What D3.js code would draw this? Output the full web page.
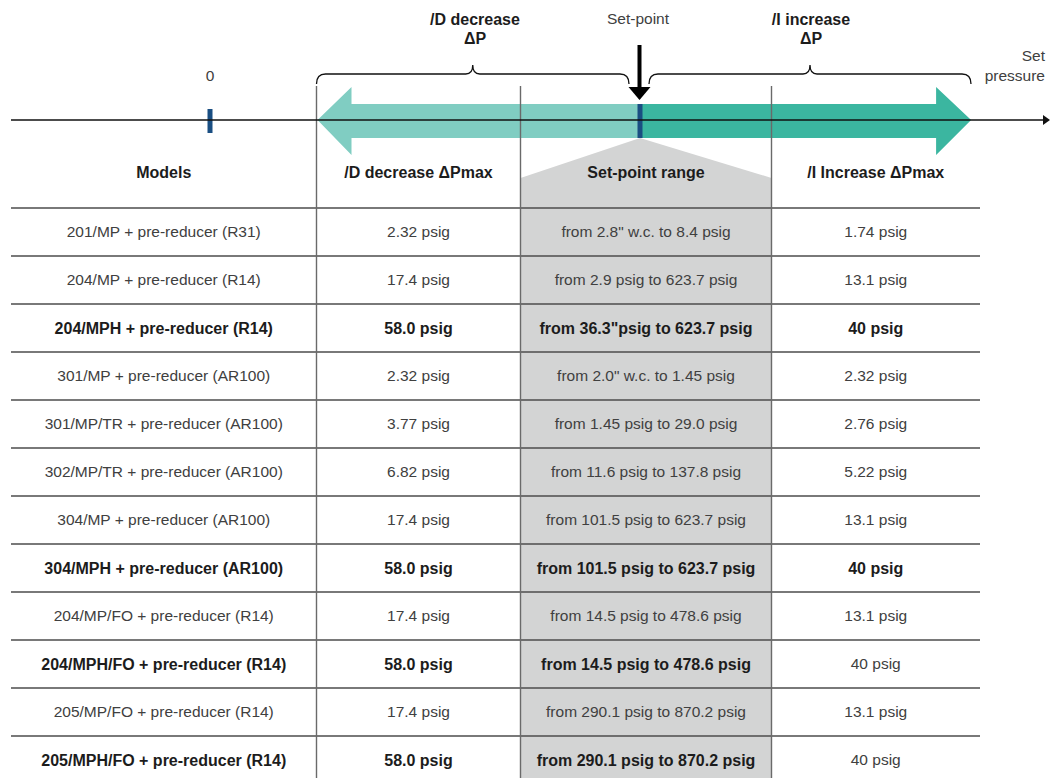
<!DOCTYPE html>
<html>
<head>
<meta charset="utf-8">
<script src="https://cdn.jsdelivr.net/npm/d3@7"></script>
<style>
  body { margin: 0; background: #fff; }
  text { font-family: "Liberation Sans", Arial, sans-serif; font-size: 15.5px; }
  text.b { font-size: 16px; font-weight: bold; }
</style>
</head>
<body>
<svg id="chart" width="1050" height="778"></svg>
<script>
// table content
var models = ["201/MP + pre-reducer (R31)", "204/MP + pre-reducer (R14)", "204/MPH + pre-reducer (R14)",
  "301/MP + pre-reducer (AR100)", "301/MP/TR + pre-reducer (AR100)", "302/MP/TR + pre-reducer (AR100)",
  "304/MP + pre-reducer (AR100)", "304/MPH + pre-reducer (AR100)", "204/MP/FO + pre-reducer (R14)",
  "204/MPH/FO + pre-reducer (R14)", "205/MP/FO + pre-reducer (R14)", "205/MPH/FO + pre-reducer (R14)"];
var decreaseMax = ["2.32 psig", "17.4 psig", "58.0 psig", "2.32 psig", "3.77 psig", "6.82 psig",
  "17.4 psig", "58.0 psig", "17.4 psig", "58.0 psig", "17.4 psig", "58.0 psig"];
var setRange = ["from 2.8\" w.c. to 8.4 psig", "from 2.9 psig to 623.7 psig", "from 36.3\"psig to 623.7 psig",
  "from 2.0\" w.c. to 1.45 psig", "from 1.45 psig to 29.0 psig", "from 11.6 psig to 137.8 psig",
  "from 101.5 psig to 623.7 psig", "from 101.5 psig to 623.7 psig", "from 14.5 psig to 478.6 psig",
  "from 14.5 psig to 478.6 psig", "from 290.1 psig to 870.2 psig", "from 290.1 psig to 870.2 psig"];
var increaseMax = ["1.74 psig", "13.1 psig", "40 psig", "2.32 psig", "2.76 psig", "5.22 psig",
  "13.1 psig", "40 psig", "13.1 psig", "40 psig", "13.1 psig", "40 psig"];
var boldRows = [2, 7, 9, 11];        // model, decrease and range in bold
var boldIncrease = [2, 7];           // increase column in bold
var headers = ["Models", "/D decrease \u0394Pmax", "Set-point range", "/I Increase \u0394Pmax"];

// schematic pressure axis (arbitrary units, set-point = 100)
var zeroP = 0, setPoint = 100, decreaseLimit = 25, increaseLimit = 177;

var svg = d3.select("#chart");
var ink = "#1c1c1c", soft = "#404040", rule = "#4d4d4d";

var colEdges = [11, 316.5, 520.5, 771.5, 980];
var rowH = 48, tableTop = 208;
var y = d3.scaleBand().domain(d3.range(models.length))
  .range([tableTop, tableTop + rowH * models.length]);
var p = d3.scaleLinear().domain([0, 100]).range([210, 640]);
var axisY = 120;

// gray set-point column with funnel
svg.append("path")
  .attr("d", "M" + colEdges[2] + ",778V178L" + p(setPoint) + ",138L" + colEdges[3] + ",178V778Z")
  .attr("fill", "#d3d4d4");

// decrease arrow (points left) and increase arrow (points right)
var shaftT = axisY - 16, shaftB = axisY + 18, headT = axisY - 33, headB = axisY + 35;
var dTip = p(decreaseLimit), iTip = p(increaseLimit);
svg.append("path")
  .attr("d", "M" + dTip + "," + axisY + "L" + (dTip + 34) + "," + headT + "V" + shaftT +
    "H" + p(setPoint) + "V" + shaftB + "H" + (dTip + 34) + "V" + headB + "Z")
  .attr("fill", "#80cdc2");
svg.append("path")
  .attr("d", "M" + iTip + "," + axisY + "L" + (iTip - 35) + "," + headT + "V" + shaftT +
    "H" + p(setPoint) + "V" + shaftB + "H" + (iTip - 35) + "V" + headB + "Z")
  .attr("fill", "#3bb6a0");

// markers for 0 and set-point
svg.append("rect").attr("x", p(zeroP) - 2.5).attr("y", 109).attr("width", 5).attr("height", 24).attr("fill", "#1a4e82");
svg.append("rect").attr("x", p(setPoint) - 2.5).attr("y", shaftT).attr("width", 5).attr("height", shaftB - shaftT).attr("fill", "#1a4e82");

// table rules
svg.selectAll("line.row")
  .data(d3.range(models.length + 1))
  .enter().append("line")
  .attr("x1", colEdges[0]).attr("x2", colEdges[4])
  .attr("y1", function(d) { return tableTop + d * rowH; })
  .attr("y2", function(d) { return tableTop + d * rowH; })
  .attr("stroke", rule).attr("stroke-width", 1.4);
svg.selectAll("line.col")
  .data(colEdges.slice(1, 4))
  .enter().append("line")
  .attr("x1", function(d) { return d; }).attr("x2", function(d) { return d; })
  .attr("y1", 86).attr("y2", 778)
  .attr("stroke", "#6a6a6a").attr("stroke-width", 1.4);

// pressure axis line
svg.append("line").attr("x1", 11).attr("x2", 1045).attr("y1", axisY).attr("y2", axisY)
  .attr("stroke", "#111").attr("stroke-width", 1.4);
svg.append("path").attr("d", "M1043," + (axisY - 5) + "L1050," + axisY + "L1043," + (axisY + 5) + "Z").attr("fill", "#111");

// set-point arrow
var sp = p(setPoint) - 0.5;
svg.append("line").attr("x1", sp).attr("x2", sp).attr("y1", 45).attr("y2", 89)
  .attr("stroke", "#000").attr("stroke-width", 4);
svg.append("path").attr("d", "M" + (sp - 11) + ",87L" + (sp + 11) + ",87L" + sp + ",100Z").attr("fill", "#000");

// curly braces
function brace(x0, x1, yb, yt) {
  var m = (x0 + x1) / 2, r = 9;
  return "M" + x0 + "," + (yb + 10) + "Q" + x0 + "," + yb + " " + (x0 + r) + "," + yb +
    "H" + (m - 7) + "Q" + m + "," + yb + " " + m + "," + yt +
    "Q" + m + "," + yb + " " + (m + 7) + "," + yb +
    "H" + (x1 - r) + "Q" + x1 + "," + yb + " " + x1 + "," + (yb + 10);
}
svg.append("path").attr("d", brace(colEdges[1], 629, 74, 65))
  .attr("fill", "none").attr("stroke", "#111").attr("stroke-width", 1.3);
svg.append("path").attr("d", brace(649, 971, 74, 65))
  .attr("fill", "none").attr("stroke", "#111").attr("stroke-width", 1.3);

// top labels
var topLabels = [
  { t: "/D decrease", x: 475, y: 19, b: true }, { t: "\u0394P", x: 475, y: 38, b: true },
  { t: "Set-point", x: p(setPoint) - 2, y: 19, b: false },
  { t: "/I increase", x: 811, y: 19, b: true }, { t: "\u0394P", x: 811, y: 38, b: true },
  { t: "0", x: p(zeroP), y: 76, b: false }
];
svg.selectAll("text.top")
  .data(topLabels)
  .enter().append("text")
  .attr("class", function(d) { return d.b ? "b" : null; })
  .attr("x", function(d) { return d.x; }).attr("y", function(d) { return d.y; })
  .attr("dy", "0.35em").attr("text-anchor", "middle")
  .attr("fill", function(d) { return d.b ? ink : soft; })
  .text(function(d) { return d.t; });
svg.selectAll("text.sp")
  .data(["Set", "pressure"])
  .enter().append("text")
  .attr("x", 1045).attr("y", function(d, i) { return 56 + i * 20; })
  .attr("dy", "0.35em").attr("text-anchor", "end").attr("fill", soft)
  .text(function(d) { return d; });

// header
var colMid = function(i) { return (colEdges[i] + colEdges[i + 1]) / 2; };
svg.selectAll("text.head")
  .data(headers)
  .enter().append("text")
  .attr("class", "b")
  .attr("x", function(d, i) { return colMid(i); }).attr("y", 172)
  .attr("dy", "0.35em").attr("text-anchor", "middle")
  .attr("fill", ink)
  .text(function(d) { return d; });

// cells
var columns = [models, decreaseMax, setRange, increaseMax];
columns.forEach(function(col, c) {
  var isBold = function(i) { return c < 3 ? boldRows.indexOf(i) >= 0 : boldIncrease.indexOf(i) >= 0; };
  svg.selectAll("text.c" + c)
    .data(col)
    .enter().append("text")
    .attr("class", function(d, i) { return isBold(i) ? "b" : null; })
    .attr("x", colMid(c))
    .attr("y", function(d, i) { return y(i) + y.bandwidth() / 2; })
    .attr("dy", "0.35em").attr("text-anchor", "middle")
    .attr("fill", function(d, i) { return isBold(i) ? ink : soft; })
    .text(function(d) { return d; });
});
</script>
</body>
</html>
